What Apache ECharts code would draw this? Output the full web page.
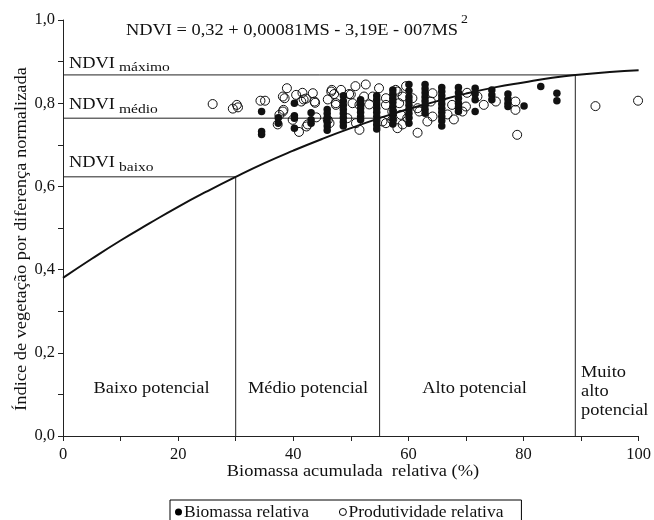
<!DOCTYPE html>
<html>
<head>
<meta charset="utf-8">
<script src="https://cdn.jsdelivr.net/npm/echarts@6/dist/echarts.min.js"></script>
<style>
html,body{margin:0;padding:0;background:#fff;}
#chart{width:654px;height:520px;}
</style>
</head>
<body>
<div id="chart"></div>
<script>
// ---- data ----
const xTicks = [0, 20, 40, 60, 80, 100];
const yTicks = ['0,0', '0,2', '0,4', '0,6', '0,8', '1,0'];

// fitted NDVI curve
const curveX = [0, 5, 10, 15, 20, 25, 30, 35, 40, 45, 50, 55, 60, 65, 70, 75, 80, 85, 90, 95, 100];
const curveY = [0.380, 0.426, 0.470, 0.511, 0.551, 0.588, 0.623, 0.656, 0.686, 0.714, 0.740, 0.764, 0.786, 0.805, 0.823, 0.838, 0.850, 0.861, 0.869, 0.875, 0.879];

// NDVI levels and biomass breaks
const ndviLevelNames = ['baixo', 'médio', 'máximo'];
const ndviLevels = [0.623, 0.764, 0.868];
const msBreaks = [30, 55, 89];

const zoneNames = ['Baixo potencial', 'Médio potencial', 'Alto potencial', 'Muito\nalto\npotencial'];
const equationText = 'NDVI = 0,32 + 0,00081MS - 3,19E - 007MS';
const xTitle = 'Biomassa acumulada  relativa (%)';
const yTitle = 'Índice de vegetação por diferença normalizada';

// Biomassa relativa (filled)
const biomassa = [
  [34.5,0.780],[34.5,0.732],[34.5,0.725],
  [37.4,0.752],[37.4,0.765],
  [40.2,0.800],[40.2,0.770],[40.2,0.764],[40.2,0.740],
  [43.1,0.777],[43.1,0.760],[43.1,0.752],
  [45.9,0.785],[45.9,0.775],[45.9,0.765],[45.9,0.755],[45.9,0.745],[45.9,0.735],
  [48.7,0.818],[48.7,0.805],[48.7,0.795],[48.7,0.785],[48.7,0.775],[48.7,0.765],[48.7,0.755],[48.7,0.745],
  [51.7,0.808],[51.7,0.798],[51.7,0.788],[51.7,0.778],[51.7,0.768],[51.7,0.760],
  [54.5,0.818],[54.5,0.808],[54.5,0.798],[54.5,0.788],[54.5,0.778],[54.5,0.768],[54.5,0.758],[54.5,0.748],[54.5,0.738],
  [57.3,0.832],[57.3,0.822],[57.3,0.812],[57.3,0.802],[57.3,0.792],[57.3,0.782],[57.3,0.772],[57.3,0.762],[57.3,0.750],
  [60.1,0.845],[60.1,0.830],[60.1,0.815],[60.1,0.805],[60.1,0.795],[60.1,0.785],[60.1,0.775],[60.1,0.765],[60.1,0.752],
  [62.9,0.845],[62.9,0.835],[62.9,0.825],[62.9,0.815],[62.9,0.805],[62.9,0.795],[62.9,0.785],[62.9,0.776],
  [65.8,0.838],[65.8,0.828],[65.8,0.818],[65.8,0.808],[65.8,0.798],[65.8,0.788],[65.8,0.778],[65.8,0.768],[65.8,0.758],[65.8,0.745],
  [68.7,0.838],[68.7,0.825],[68.7,0.812],[68.7,0.800],[68.7,0.790],[68.7,0.780],
  [71.6,0.836],[71.6,0.822],[71.6,0.808],[71.6,0.780],
  [74.5,0.832],[74.5,0.820],[74.5,0.808],
  [77.3,0.822],[77.3,0.810],[77.3,0.800],[77.3,0.792],
  [80.1,0.793],
  [83.0,0.840],
  [85.8,0.824],[85.8,0.806]
];

// Produtividade relativa (open)
const produtividade = [
  [26.0,0.798],[29.5,0.787],[30.2,0.796],[30.4,0.790],
  [34.3,0.806],[35.1,0.806],
  [38.9,0.836],[38.2,0.816],[40.5,0.820],[41.6,0.825],[41.8,0.809],[43.4,0.824],[43.8,0.801],[42.2,0.811],
  [37.6,0.772],[38.3,0.784],[39.9,0.760],[41.0,0.731],[42.3,0.744],[44.0,0.766],
  [46.0,0.809],[46.7,0.832],[47.1,0.822],[47.4,0.796],[46.0,0.760],[46.3,0.752],
  [48.3,0.832],[49.7,0.822],[50.3,0.800],[50.8,0.841],[51.5,0.796],[52.3,0.816],[50.9,0.752],[51.5,0.736],
  [53.8,0.816],[54.9,0.836],[56.1,0.796],[57.8,0.832],[56.1,0.752],[57.2,0.760],[58.4,0.800],
  [52.6,0.845],[50.0,0.821],[53.2,0.797],[56.1,0.812],[58.1,0.828],[57.2,0.780],[58.7,0.772],[59.0,0.749],
  [49.4,0.764],[55.5,0.756],[58.1,0.740],
  [59.6,0.841],[59.0,0.816],[60.7,0.812],[61.6,0.729],[64.2,0.824],[63.9,0.804],[64.2,0.768],[61.9,0.780],
  [67.6,0.796],[67.9,0.761],[69.4,0.780],[70.0,0.792],[72.0,0.816],[73.1,0.796],[75.2,0.804],
  [78.6,0.804],[78.6,0.784],[78.9,0.724],[92.5,0.793],[99.9,0.806],
  [61.6,0.788],[66.8,0.773],[70.2,0.825],[59.8,0.764],[63.3,0.756],
  [38.5,0.812],[41.4,0.804],[43.7,0.804],[38.2,0.780],[37.3,0.749],[42.5,0.749],[46.6,0.828],[47.4,0.800]
];

// ---- chart ----
const SERIF = '"Liberation Serif", "DejaVu Serif", serif';
const INK = '#111';
const SX = 1.15; // the reference lettering is slightly wide
const chart = echarts.init(document.getElementById('chart'), null, {renderer: 'canvas'});

const guideSeries = ndviLevels.map((lv, i) => ({
  type: 'line',
  silent: true,
  symbol: 'none',
  lineStyle: {color: '#222', width: 1},
  data: [[0, lv], [msBreaks[i], lv], [msBreaks[i], 0]],
  z: 2
}));

const curveData = curveX.map((x, i) => [x, curveY[i]]);

function txt(text, x, y, size, extra) {
  return Object.assign({
    type: 'text', x: x, y: y, scaleX: SX, silent: true,
    style: Object.assign({text: text, fontFamily: SERIF, fontSize: size, fill: INK, verticalAlign: 'top'}, extra || {})
  });
}

const graphics = [];
const ndviMainY = [154.6, 96.3, 55.6];
const ndviSubY = [160.3, 102.6, 60.3];
ndviLevelNames.forEach((nm, i) => {
  graphics.push(txt('NDVI', 69, ndviMainY[i], 16));
  graphics.push(txt(nm, 119, ndviSubY[i], 13.5));
});
graphics.push(txt(equationText, 126, 23, 16));
graphics.push(txt('2', 461, 14, 12));

const zoneX = [151.5, 308, 474.5];
for (let i = 0; i < 3; i++) {
  graphics.push(txt(zoneNames[i], zoneX[i], 381, 16, {align: 'center'}));
}
graphics.push(txt(zoneNames[3], 581, 363, 16, {lineHeight: 19}));
graphics.push(txt(xTitle, 353, 464, 16, {align: 'center'}));
const yT = txt(yTitle, 14, 239, 16, {align: 'center'});
yT.rotation = Math.PI / 2;
graphics.push(yT);

chart.setOption({
  animation: false,
  backgroundColor: '#fff',
  grid: {left: 63, right: 14, top: 20, bottom: 84},
  xAxis: {
    type: 'value', min: 0, max: 100, interval: 10,
    axisLine: {lineStyle: {color: '#222', width: 1}},
    axisTick: {length: 5, lineStyle: {color: '#222'}},
    splitLine: {show: false},
    axisLabel: {
      margin: 10, color: INK, fontFamily: SERIF, fontSize: 16.5,
      formatter: v => (Math.round(v) % 20 === 0 ? String(xTicks[Math.round(v) / 20]) : '')
    }
  },
  yAxis: {
    type: 'value', min: 0, max: 1, interval: 0.1,
    axisLine: {show: true, lineStyle: {color: '#222', width: 1}},
    axisTick: {show: true, length: 5, lineStyle: {color: '#222'}},
    splitLine: {show: false},
    axisLabel: {
      margin: 8, color: INK, fontFamily: SERIF, fontSize: 16.5,
      formatter: v => { const k = Math.round(v * 10); return k % 2 === 0 ? yTicks[k / 2] : ''; }
    }
  },
  legend: {
    left: 170, top: 500,
    borderColor: '#000', borderWidth: 1, borderRadius: 0,
    padding: [3, 18, 6, 5],
    itemGap: 30, itemWidth: 7, itemHeight: 7,
    textStyle: {fontFamily: SERIF, fontSize: 17.5, color: INK, padding: [0, 0, 0, -3]},
    data: [
      {name: 'Biomassa relativa', icon: 'circle', itemStyle: {color: '#000', borderWidth: 0}},
      {name: 'Produtividade relativa', icon: 'circle', itemStyle: {color: '#fff', borderColor: '#000', borderWidth: 1}}
    ]
  },
  graphic: graphics,
  series: [
    ...guideSeries,
    {
      type: 'line', silent: true, symbol: 'none', smooth: true,
      lineStyle: {color: INK, width: 2},
      data: curveData, z: 3
    },
    {
      name: 'Biomassa relativa', type: 'scatter',
      symbol: 'circle', symbolSize: 7.5,
      itemStyle: {color: INK, opacity: 1},
      data: biomassa, z: 4
    },
    {
      name: 'Produtividade relativa', type: 'scatter',
      symbol: 'circle', symbolSize: 9,
      itemStyle: {color: 'rgba(255,255,255,0)', borderColor: INK, borderWidth: 1, opacity: 1},
      data: produtividade, z: 5
    }
  ]
});
</script>
</body>
</html>
